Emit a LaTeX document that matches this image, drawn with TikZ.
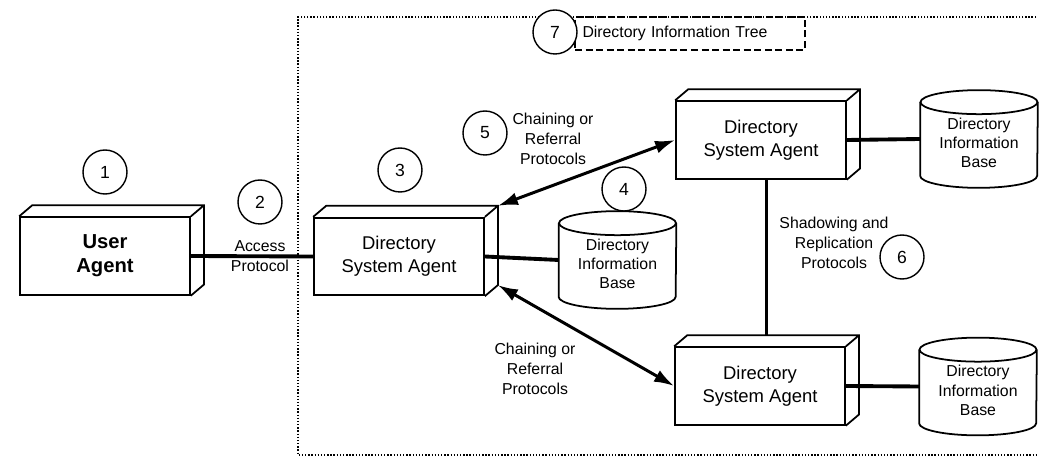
\documentclass[tikz,border=0pt]{standalone}
\usepackage{fontspec}
\setmainfont{Liberation Sans}
\usetikzlibrary{arrows.meta}

% depth of the agent boxes and shape of the base drums
\newcommand{\slab}[1]{%
  \draw[line width=1pt] (#1.north west) -- ++(0.26,0.22) -- ([shift={(0.26,0.22)}]#1.north east)
    -- ([shift={(0.26,0.22)}]#1.south east) -- (#1.south east)
    (#1.north east) -- ++(0.26,0.22);}
\newcommand{\drum}[1]{%
  \draw[line width=1pt] ([yshift=-0.24cm]#1.north west) -- ([yshift=0.24cm]#1.south west)
    arc[start angle=180,end angle=360,x radius=1.17cm,y radius=0.24cm]
    -- ([yshift=-0.24cm]#1.north east);
  \draw[line width=1pt] ([yshift=-0.24cm]#1.north) ellipse[x radius=1.17cm,y radius=0.24cm];}

\begin{document}
\begin{tikzpicture}[
  agent/.style={draw,fill=white,line width=1pt,minimum width=3.4cm,minimum height=1.55cm,
    align=center,font=\fontsize{10.5}{13}\selectfont},
  base/.style={minimum width=2.34cm,minimum height=1.94cm,align=center,
    font=\fontsize{9}{11}\selectfont},
  num/.style={draw,circle,fill=white,line width=0.8pt,minimum size=0.88cm,inner sep=0pt,
    font=\fontsize{10}{12}\selectfont},
  lbl/.style={align=center,font=\fontsize{9}{11.5}\selectfont},
  link/.style={line width=2.2pt},
  chain/.style={line width=1.7pt,<->,>={Latex[length=0.4cm,width=0.26cm]}}]
\useasboundingbox (0,0) rectangle (20.78,-9.22);

% tree frame
\draw[densely dotted,line width=0.8pt] (20.72,-0.34) -- (5.96,-0.34) -- (5.96,-9.10) -- (20.72,-9.10);
\node[draw,dashed,dash pattern=on 4pt off 2pt,line width=0.8pt,minimum width=4.6cm,minimum height=0.66cm,
  text width=4.3cm,align=left,font=\fontsize{9}{11}\selectfont] (dit) at (13.80,-0.67) {Directory Information Tree};
\node[num] (c7) at (11.10,-0.64) {7};

% agents
\node[agent,font=\bfseries\fontsize{11.5}{13.5}\selectfont] (ua) at (2.10,-5.12) {User\\Agent};
\node[agent] (dsa1) at (7.98,-5.13) {Directory\\System Agent};
\node[agent] (dsa2) at (15.22,-2.80) {Directory\\System Agent};
\node[agent] (dsa3) at (15.20,-7.72) {Directory\\System Agent};
\slab{ua} \slab{dsa1} \slab{dsa2} \slab{dsa3}
\coordinate (dsa1ne) at ([shift={(0.26,0.22)}]dsa1.north east);
\coordinate (dsa1se) at ([shift={(0.26,0.22)}]dsa1.south east);
\coordinate (dsa3top) at ([shift={(0.13,0.22)}]dsa3.north);

% bases
\node[base] (dib1) at (12.35,-5.20) {};
\node[base] (dib2) at (19.58,-2.78) {};
\node[base] (dib3) at (19.56,-7.73) {};
\drum{dib1} \drum{dib2} \drum{dib3}
\node[base,minimum height=0pt] (dib1txt) at ([yshift=-0.08cm]dib1.center) {Directory\\Information\\Base};
\node[base,minimum height=0pt] (dib2txt) at ([yshift=-0.08cm]dib2.center) {Directory\\Information\\Base};
\node[base,minimum height=0pt] (dib3txt) at ([yshift=-0.08cm]dib3.center) {Directory\\Information\\Base};

% connections
\draw[link] (ua.east) -- (dsa1.west);
\draw[link] (dsa1.east) -- (dib1.west);
\draw[link] (dsa2.east) -- (dib2.west);
\draw[link] (dsa3.east) -- (dib3.west);
\draw[link] (dsa2.south -| dsa3top) -- (dsa3top);
\draw[chain] (dsa1ne) -- (dsa2.west);
\draw[chain] (dsa1se) -- (dsa3.west);

% labels
\node[lbl] (acc) at (5.20,-5.12) {Access\\Protocol};
\node[lbl] (ch1) at (11.06,-2.78) {Chaining or\\Referral\\Protocols};
\node[lbl] (ch2) at (10.70,-7.38) {Chaining or\\Referral\\Protocols};
\node[lbl] (sh) at (16.68,-4.86) {Shadowing and\\Replication\\Protocols};

% numbers
\node[num] (c1) at (2.10,-3.44) {1};
\node[num] (c2) at (5.20,-4.04) {2};
\node[num] (c3) at (8.00,-3.40) {3};
\node[num] (c4) at (12.48,-3.78) {4};
\node[num] (c5) at (9.70,-2.66) {5};
\node[num] (c6) at (18.04,-5.14) {6};
\end{tikzpicture}
\end{document}
